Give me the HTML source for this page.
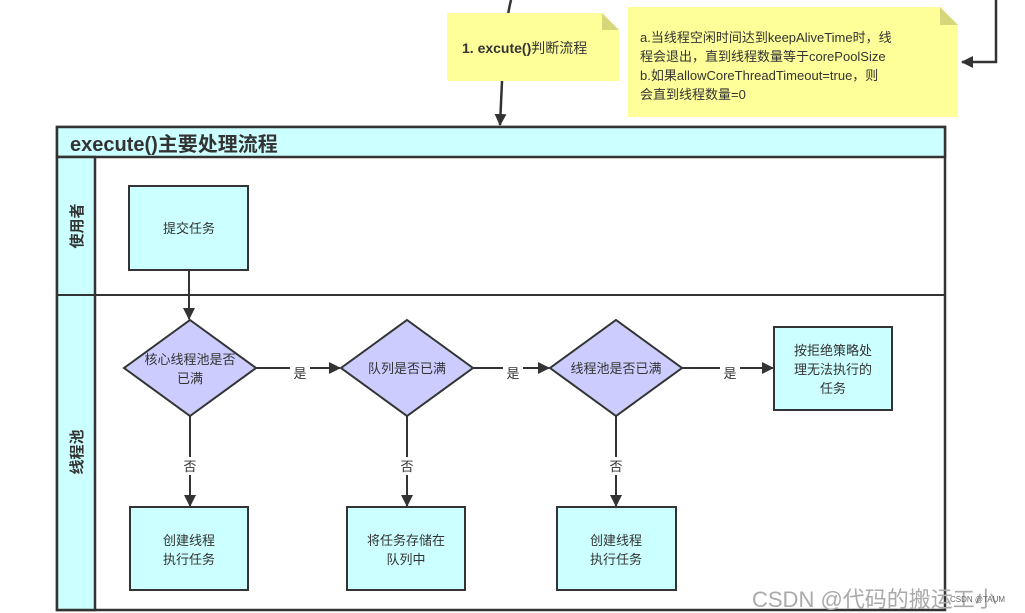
<!DOCTYPE html>
<html><head><meta charset="utf-8"><style>
html,body{margin:0;padding:0;background:#fff;width:1025px;height:613px;overflow:hidden}
svg text{font-family:"Liberation Sans","Noto Sans CJK SC",sans-serif;fill:#333}
</style></head><body>
<svg width="1025" height="613" viewBox="0 0 1025 613" xmlns="http://www.w3.org/2000/svg">
<defs><marker id="a" markerWidth="12" markerHeight="12" refX="11" refY="6" orient="auto" markerUnits="userSpaceOnUse"><path d="M0,0 L12,6 L0,12 Z" fill="#333"/></marker></defs>
<path d="M511,0 Q506,20 503,60 L500,125" fill="none" stroke="#333" stroke-width="2.5" marker-end="url(#a)"/>
<path d="M996,0 L996,62 L962,62" fill="none" stroke="#333" stroke-width="2.5" marker-end="url(#a)"/>
<path d="M447,13 L602,13 L619,30 L619,81 L447,81 Z" fill="#ffff99"/>
<path d="M602,13 L602,30 L619,30 Z" fill="#d6d67a"/>
<text x="462" y="53" font-size="14"><tspan font-weight="bold">1. excute()</tspan>判断流程</text>
<path d="M628,7 L940,7 L958,25 L958,117 L628,117 Z" fill="#ffff99"/>
<path d="M940,7 L940,25 L958,25 Z" fill="#d6d67a"/>
<g font-size="13"><text x="640" y="42">a.当线程空闲时间达到keepAliveTime时，线</text>
<text x="640" y="61">程会退出，直到线程数量等于corePoolSize</text>
<text x="640" y="80">b.如果allowCoreThreadTimeout=true，则</text>
<text x="640" y="99">会直到线程数量=0</text></g>
<rect x="57" y="127" width="888" height="483" fill="#fff" stroke="#333" stroke-width="2.5"/>
<rect x="57" y="127" width="888" height="30" fill="#ccffff" stroke="#333" stroke-width="2.5"/>
<text x="70" y="151" font-size="20" font-weight="bold">execute()主要处理流程</text>
<rect x="57" y="157" width="38" height="453" fill="#ccffff" stroke="#333" stroke-width="2.5"/>
<line x1="57" y1="295" x2="945" y2="295" stroke="#333" stroke-width="2"/>
<text transform="translate(82,226) rotate(-90)" font-size="15" font-weight="bold" text-anchor="middle">使用者</text>
<text transform="translate(82,452) rotate(-90)" font-size="15" font-weight="bold" text-anchor="middle">线程池</text>
<g stroke="#333" stroke-width="2">
<rect x="129" y="186" width="119" height="84" fill="#ccffff"/>
<polygon points="190,320 256,368 190,416 124,368" fill="#ccccff"/>
<polygon points="407,320 473,368 407,416 341,368" fill="#ccccff"/>
<polygon points="616,320 682,368 616,416 550,368" fill="#ccccff"/>
<rect x="774" y="327" width="118" height="83" fill="#ccffff"/>
<rect x="130" y="507" width="118" height="83" fill="#ccffff"/>
<rect x="347" y="507" width="118" height="83" fill="#ccffff"/>
<rect x="557" y="507" width="119" height="83" fill="#ccffff"/>
</g>
<g stroke="#333" stroke-width="2" fill="none">
<line x1="189" y1="270" x2="189" y2="319" marker-end="url(#a)"/>
<line x1="256" y1="368" x2="340" y2="368" marker-end="url(#a)"/>
<line x1="473" y1="368" x2="549" y2="368" marker-end="url(#a)"/>
<line x1="682" y1="368" x2="773" y2="368" marker-end="url(#a)"/>
<line x1="190" y1="416" x2="190" y2="506" marker-end="url(#a)"/>
<line x1="407" y1="416" x2="407" y2="506" marker-end="url(#a)"/>
<line x1="616" y1="416" x2="616" y2="506" marker-end="url(#a)"/>
</g>
<g font-size="13" text-anchor="middle">
<rect x="290" y="362" width="20" height="16" fill="#fff"/><text x="300" y="378">是</text>
<rect x="503" y="362" width="20" height="16" fill="#fff"/><text x="513" y="378">是</text>
<rect x="720" y="362" width="20" height="16" fill="#fff"/><text x="730" y="378">是</text>
<rect x="182" y="457" width="16" height="18" fill="#fff"/><text x="190" y="471">否</text>
<rect x="399" y="457" width="16" height="18" fill="#fff"/><text x="407" y="471">否</text>
<rect x="608" y="457" width="16" height="18" fill="#fff"/><text x="616" y="471">否</text>
<text x="189" y="233">提交任务</text>
<text x="190" y="364">核心线程池是否</text><text x="190" y="383">已满</text>
<text x="407" y="373">队列是否已满</text>
<text x="616" y="373">线程池是否已满</text>
<text x="833" y="355">按拒绝策略处</text><text x="833" y="374">理无法执行的</text><text x="833" y="393">任务</text>
<text x="189" y="545">创建线程</text><text x="189" y="564">执行任务</text>
<text x="406" y="545">将任务存储在</text><text x="406" y="564">队列中</text>
<text x="616" y="545">创建线程</text><text x="616" y="564">执行任务</text>
</g>
<text x="752" y="607" font-size="22" style="fill:#aaa">CSDN @代码的搬运工小</text>
<text x="950" y="602" font-size="8" style="fill:#666">CSDN @TAUM</text>
</svg>
</body></html>
